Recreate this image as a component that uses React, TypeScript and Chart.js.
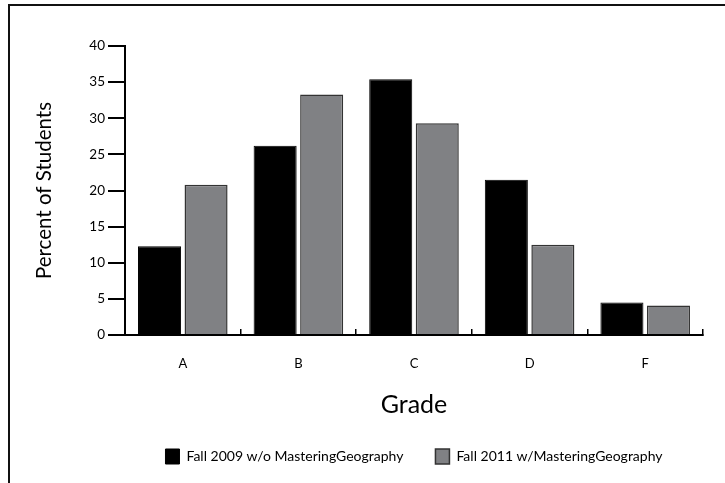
import React, { useEffect, useRef } from "react";
import { Chart, registerables } from "chart.js";

Chart.register(...registerables);

const grades = ["A", "B", "C", "D", "F"];
const fall2009 = [12.3, 26.2, 35.4, 21.5, 4.5];
const fall2011 = [20.8, 33.3, 29.3, 12.5, 4.1];
const seriesLabels = ["Fall 2009 w/o MasteringGeography", "Fall 2011 w/MasteringGeography"];
const yTitle = "Percent of Students";
const xTitle = "Grade";

export default function App() {
  const ref = useRef<HTMLCanvasElement | null>(null);
  useEffect(() => {
    if (!ref.current) return;
    Chart.defaults.font.family = "Lato, 'Open Sans', sans-serif";
    Chart.defaults.color = "#000";
    const chart = new Chart(ref.current, {
      type: "bar",
      data: {
        labels: grades,
        datasets: [
          {
            label: seriesLabels[0],
            data: fall2009,
            backgroundColor: "#000000",
            borderColor: "#000000",
            borderWidth: 1,
            categoryPercentage: 0.805,
            barPercentage: 0.925,
          },
          {
            label: seriesLabels[1],
            data: fall2011,
            backgroundColor: "#808184",
            borderColor: "#333333",
            borderWidth: 1.5,
            categoryPercentage: 0.805,
            barPercentage: 0.925,
          },
        ],
      },
      options: {
        animation: false,
        responsive: true,
        maintainAspectRatio: false,
        layout: { padding: { left: 10, right: 22, top: 46, bottom: 9 } },
        plugins: {
          tooltip: { enabled: false },
          legend: {
            position: "bottom",
            fullSize: false,
            labels: {
              boxWidth: 14,
              boxHeight: 15,
              padding: 32,
              font: { size: 14 },
              color: "#000",
            },
          },
        },
        scales: {
          x: {
            offset: true,
            grid: {
              display: true,
              offset: true,
              drawOnChartArea: false,
              drawTicks: true,
              tickLength: -6,
              color: "#000",
              lineWidth: 1.5,
            },
            border: { display: true, color: "#000", width: 2 },
            ticks: { padding: 27, font: { size: 13 }, color: "#000" },
            title: {
              display: true,
              text: xTitle,
              font: { size: 25, lineHeight: 1 },
              padding: { top: 0, bottom: 0 },
              color: "#000",
            },
            afterFit: (scale: any) => {
              scale.height = 82;
            },
          },
          y: {
            min: 0,
            max: 40,
            ticks: { stepSize: 5, padding: 3, font: { size: 13.5 }, color: "#000" },
            grid: {
              display: true,
              drawOnChartArea: false,
              drawTicks: true,
              tickLength: 17,
              color: "#000",
              lineWidth: 2,
            },
            border: { display: true, color: "#000", width: 2 },
            title: {
              display: true,
              text: yTitle,
              font: { size: 20.5, lineHeight: 1.2 },
              padding: { top: 22, bottom: 0 },
              color: "#000",
            },
            afterFit: (scale: any) => {
              scale.width = 115;
            },
          },
        },
      },
    });
    return () => chart.destroy();
  }, []);

  return (
    <div style={{ position: "absolute", left: 0, top: 0, width: 725, height: 483, overflow: "hidden", background: "#fff" }}>
      <div
        style={{
          position: "absolute",
          left: 8,
          top: 4,
          width: 800,
          height: 600,
          borderLeft: "2px solid #111",
          borderTop: "2px solid #111",
        }}
      />
      <div style={{ position: "absolute", left: 0, top: 0, width: 725, height: 483 }}>
        <canvas ref={ref} />
      </div>
    </div>
  );
}
